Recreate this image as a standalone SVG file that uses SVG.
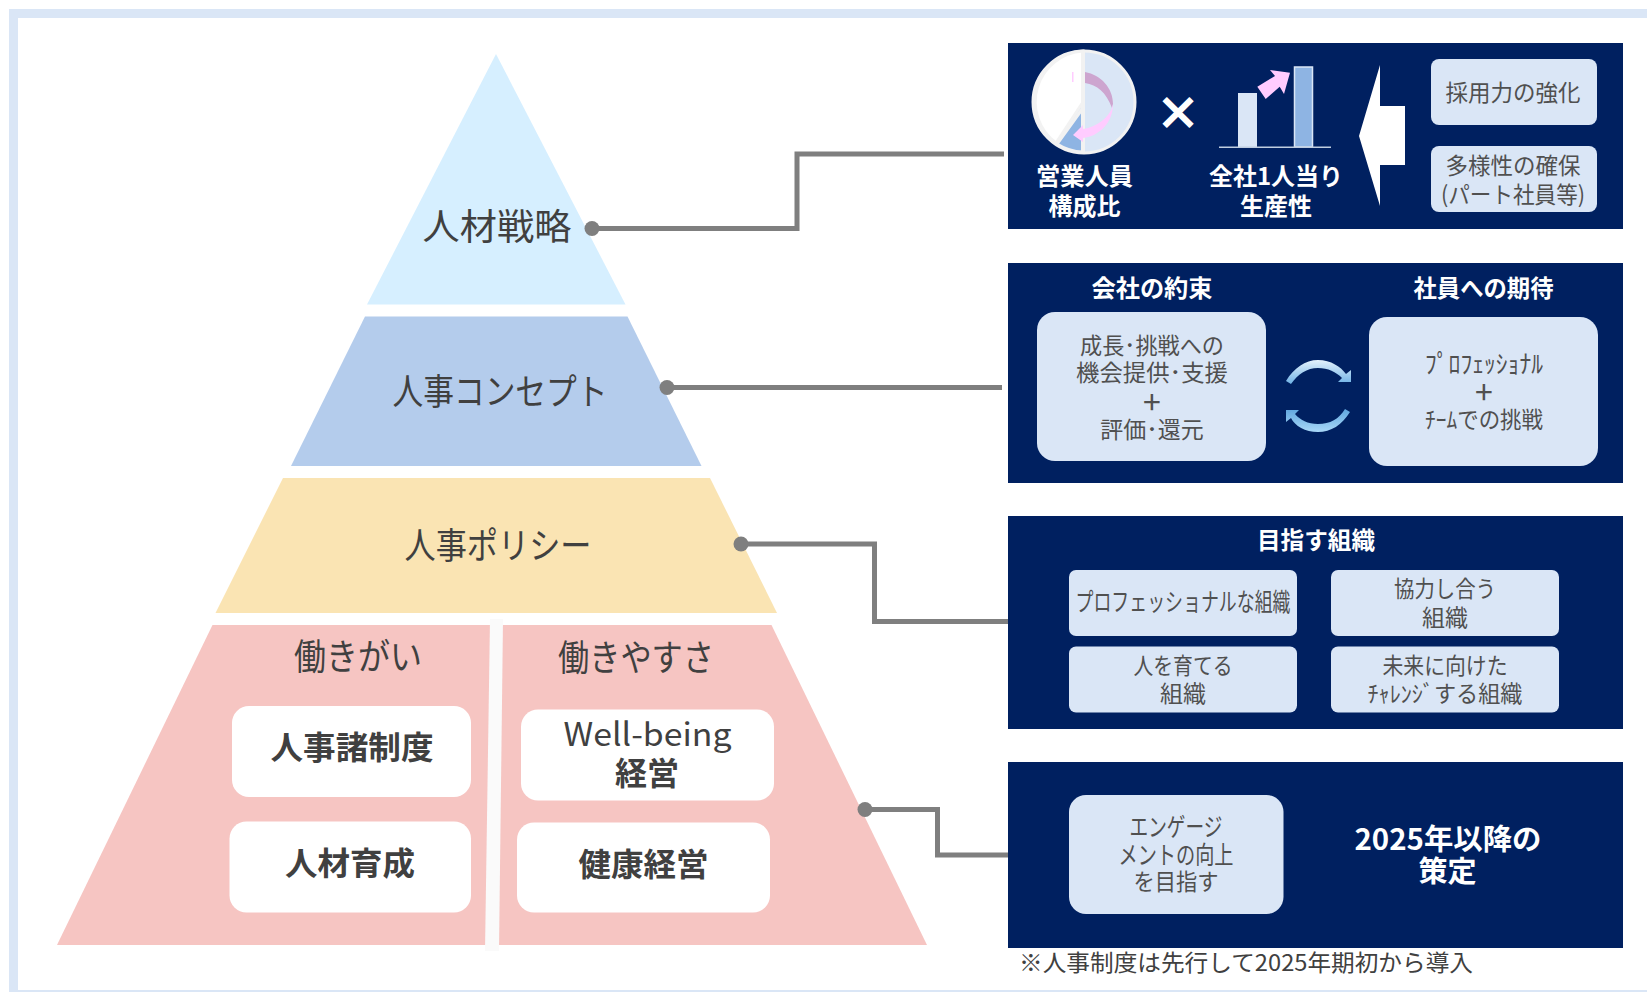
<svg xmlns="http://www.w3.org/2000/svg" width="1647" height="992" viewBox="0 0 1647 992">
<style>
text{font-family:"Noto Sans CJK JP","Noto Sans",sans-serif;text-anchor:middle;dominant-baseline:central;transform:translateY(-2.5px)}
.py{fill:#404040;font-size:36px}
.wb{fill:#fff;rx:17px}
.wt{fill:#404040;font-size:32px;font-weight:700}
.panel{fill:#002060}
.lb{fill:#dae6f6}
.bt{fill:#505050;font-size:23px}
.plus{fill:#505050;font-size:32px}
.wh{fill:#fff;font-size:24px;font-weight:700}
.conn{fill:none;stroke:#7f7f7f;stroke-width:5}
.dot{fill:#7f7f7f}
</style>
<defs>
<linearGradient id="gt" x1="0" y1="0" x2="0" y2="1"><stop offset="0" stop-color="#e4f2fc"/><stop offset="1" stop-color="#6fb2e6"/></linearGradient>
<linearGradient id="gb" x1="0" y1="0" x2="0" y2="1"><stop offset="0" stop-color="#5fa6de"/><stop offset="1" stop-color="#a9d8f8"/></linearGradient>
</defs>
<rect width="1647" height="992" fill="#fff"/>
<path id="frame" d="M9 992V9H1647V18H18V990H1647V992Z" fill="#dae6f6"/>

<g id="level-strategy">
<polygon points="496,54 625.5,304.5 367,304.5" fill="#d6efff"/>
<text class="py" x="497" y="226" textLength="149" lengthAdjust="spacingAndGlyphs">人材戦略</text>
</g>
<g id="level-concept">
<polygon points="365,316.5 627.5,316.5 701.5,466 291,466" fill="#b4ccec"/>
<text class="py" x="500" y="391" textLength="215" lengthAdjust="spacingAndGlyphs">人事コンセプト</text>
</g>
<g id="level-policy">
<polygon points="283,478 710,478 777,613 215.5,613" fill="#fae4b3"/>
<text class="py" x="498" y="545" textLength="187" lengthAdjust="spacingAndGlyphs">人事ポリシー</text>
</g>
<g id="level-base">
<polygon points="212.5,625 771.5,625 927,945 57,945" fill="#f6c5c2"/>
<polygon points="490,619 503,619 499,951 485,951" fill="#fafafa"/>
<text class="py" x="358" y="656" textLength="128" lengthAdjust="spacingAndGlyphs">働きがい</text>
<text class="py" x="636" y="657" textLength="156" lengthAdjust="spacingAndGlyphs">働きやすさ</text>
</g>
<g id="node-seido">
<rect class="wb" x="232" y="706" width="239" height="91"/>
<text class="wt" x="352" y="747" textLength="163" lengthAdjust="spacingAndGlyphs">人事諸制度</text>
</g>
<g id="node-ikusei">
<rect class="wb" x="229.500" y="821.500" width="241.500" height="91"/>
<text class="wt" x="350" y="863" textLength="130" lengthAdjust="spacingAndGlyphs">人材育成</text>
</g>
<g id="node-wellbeing">
<rect class="wb" x="521" y="709.500" width="253" height="91"/>
<text x="647.500" y="734" fill="#404040" font-size="32" textLength="168" lengthAdjust="spacingAndGlyphs">Well-being</text>
<text class="wt" x="647" y="773" textLength="64" lengthAdjust="spacingAndGlyphs">経営</text>
</g>
<g id="node-kenko">
<rect class="wb" x="517" y="822.500" width="253" height="90"/>
<text class="wt" x="643.500" y="864" textLength="130" lengthAdjust="spacingAndGlyphs">健康経営</text>
</g>

<g id="connectors">
<path class="conn" d="M592 228.500H797V154H1004"/>
<circle class="dot" cx="592" cy="228.500" r="7.500"/>
<path class="conn" d="M667 387.500H1002"/>
<circle class="dot" cx="667" cy="387.500" r="7.500"/>
<path class="conn" d="M741 544H874.500V621.500H1008"/>
<circle class="dot" cx="741" cy="544" r="7.500"/>
<path class="conn" d="M865 809.500H937.500V855H1008"/>
<circle class="dot" cx="865" cy="809.500" r="7.500"/>
</g>

<g id="panel-strategy">
<rect class="panel" x="1008" y="43" width="615" height="186"/>
<circle cx="1084" cy="102" r="51" fill="#dae6f6" stroke="#f2f2f2" stroke-width="3"/>
<path d="M1083 102L1056 143A51 51 0 0 1 1083 51Z" fill="#fff" stroke="#f2f2f2" stroke-width="3"/>
<path d="M1083 108V152A51 51 0 0 1 1057 144Z" fill="#8eb4e3" stroke="#f2f2f2" stroke-width="3"/>
<rect x="1081" y="51" width="4" height="102" fill="#f2f2f2"/>
<path d="M1085 72C1101 75 1113 88 1113 104L1112 108C1106 92 1097 85 1085 83Z" fill="#cda5cf"/>
<path d="M1113 104C1113 122 1100 136 1083 138V142L1073 135L1083 125V129C1097 127 1108 118 1112 108Z" fill="#ffccff"/>
<rect x="1072" y="72" width="1.500" height="10" fill="#ffccff"/>
<text x="1178" y="112" fill="#fff" stroke="#fff" stroke-width="1.500" font-size="44" font-weight="700">×</text>
<rect x="1238" y="93" width="19" height="54" fill="#dae6f6"/>
<rect x="1294.500" y="67" width="18" height="80" fill="#8eb4e3" stroke="#dae6f6" stroke-width="1.500"/>
<rect x="1219" y="146.500" width="112" height="1.500" fill="#bfcde0"/>
<polygon points="1265.700,99 1257.300,86.700 1275,76 1270,70 1290,72.700 1284,94 1279.700,86.700" fill="#ffccff"/>
<text class="wh" x="1084.500" y="177" textLength="97" lengthAdjust="spacingAndGlyphs">営業人員</text>
<text class="wh" x="1084.500" y="207">構成比</text>
<text class="wh" x="1276" y="177">全社1人当り</text>
<text class="wh" x="1276" y="207">生産性</text>
<polygon points="1359,136 1380,65 1380,106 1405,106 1405,165 1380,165 1380,206" fill="#fff"/>
<rect class="lb" x="1431" y="59" width="166" height="66" rx="8"/>
<rect class="lb" x="1431" y="146" width="166" height="66" rx="8"/>
<text class="bt" x="1513" y="93" textLength="135" lengthAdjust="spacingAndGlyphs">採用力の強化</text>
<text class="bt" x="1513" y="166" textLength="135" lengthAdjust="spacingAndGlyphs">多様性の確保</text>
<text class="bt" x="1513" y="195" textLength="144" lengthAdjust="spacingAndGlyphs">(パート社員等)</text>
</g>

<g id="panel-concept">
<rect class="panel" x="1008" y="263" width="615" height="220"/>
<text class="wh" x="1152" y="289" textLength="121" lengthAdjust="spacingAndGlyphs">会社の約束</text>
<text class="wh" x="1483.500" y="289" textLength="140" lengthAdjust="spacingAndGlyphs">社員への期待</text>
<rect class="lb" x="1037" y="312" width="229" height="149" rx="18"/>
<rect class="lb" x="1369" y="317" width="229" height="149" rx="18"/>
<text class="bt" x="1152" y="346" textLength="144" lengthAdjust="spacingAndGlyphs">成長･挑戦への</text>
<text class="bt" x="1152" y="373" textLength="152" lengthAdjust="spacingAndGlyphs">機会提供･支援</text>
<text class="plus" x="1152" y="402">+</text>
<text class="bt" x="1152" y="430">評価･還元</text>
<text class="bt" x="1484" y="364" font-size="25" style="font-size:25px" textLength="118" lengthAdjust="spacingAndGlyphs">ﾌﾟﾛﾌｪｯｼｮﾅﾙ</text>
<text class="plus" x="1484" y="392">+</text>
<text class="bt" x="1484" y="420" textLength="118" lengthAdjust="spacingAndGlyphs">ﾁｰﾑでの挑戦</text>
<path d="M1286 381C1294 368 1305 360 1318 360C1331 360 1341 367 1346 374L1351 370L1351 382L1338 382L1342 378C1336 372 1328 368 1318 368C1307 368 1298 374 1291 384Z" fill="url(#gt)"/>
<path d="M1350 412C1342 425 1331 432 1318 432C1305 432 1295 426 1291 418L1286 422L1286 410L1299 410L1295 414C1300 420 1308 424 1318 424C1330 424 1339 419 1345 409Z" fill="url(#gb)"/>
</g>

<g id="panel-policy">
<rect class="panel" x="1008" y="516" width="615" height="213"/>
<text class="wh" x="1316" y="541" textLength="118" lengthAdjust="spacingAndGlyphs">目指す組織</text>
<rect class="lb" x="1069" y="570" width="228" height="66" rx="7"/>
<rect class="lb" x="1331" y="570" width="228" height="66" rx="7"/>
<rect class="lb" x="1069" y="646.500" width="228" height="66" rx="7"/>
<rect class="lb" x="1331" y="646.500" width="228" height="66" rx="7"/>
<text class="bt" x="1183" y="602" style="font-size:25px" textLength="215" lengthAdjust="spacingAndGlyphs">プロフェッショナルな組織</text>
<text class="bt" x="1445" y="589" textLength="102" lengthAdjust="spacingAndGlyphs">協力し合う</text>
<text class="bt" x="1445" y="618" textLength="46" lengthAdjust="spacingAndGlyphs">組織</text>
<text class="bt" x="1183" y="666" textLength="99" lengthAdjust="spacingAndGlyphs">人を育てる</text>
<text class="bt" x="1183" y="694" textLength="46" lengthAdjust="spacingAndGlyphs">組織</text>
<text class="bt" x="1445" y="666" textLength="125" lengthAdjust="spacingAndGlyphs">未来に向けた</text>
<text class="bt" x="1445" y="694" textLength="155" lengthAdjust="spacingAndGlyphs">ﾁｬﾚﾝｼﾞする組織</text>
</g>

<g id="panel-engagement">
<rect class="panel" x="1008" y="762" width="615" height="186"/>
<rect class="lb" x="1069" y="795" width="214.500" height="119" rx="17"/>
<text class="bt" x="1176" y="827" style="font-size:25px" textLength="93" lengthAdjust="spacingAndGlyphs">エンゲージ</text>
<text class="bt" x="1176" y="855" style="font-size:25px" textLength="115" lengthAdjust="spacingAndGlyphs">メントの向上</text>
<text class="bt" x="1176" y="882" textLength="85" lengthAdjust="spacingAndGlyphs">を目指す</text>
<text x="1448" y="839" fill="#fff" font-size="29" font-weight="700" textLength="187" lengthAdjust="spacingAndGlyphs">2025年以降の</text>
<text x="1447.500" y="871" fill="#fff" font-size="29" font-weight="700">策定</text>
</g>
<text id="footnote" x="1246" y="963.500" fill="#404040" font-size="23" textLength="454" lengthAdjust="spacingAndGlyphs">※人事制度は先行して2025年期初から導入</text>
</svg>
